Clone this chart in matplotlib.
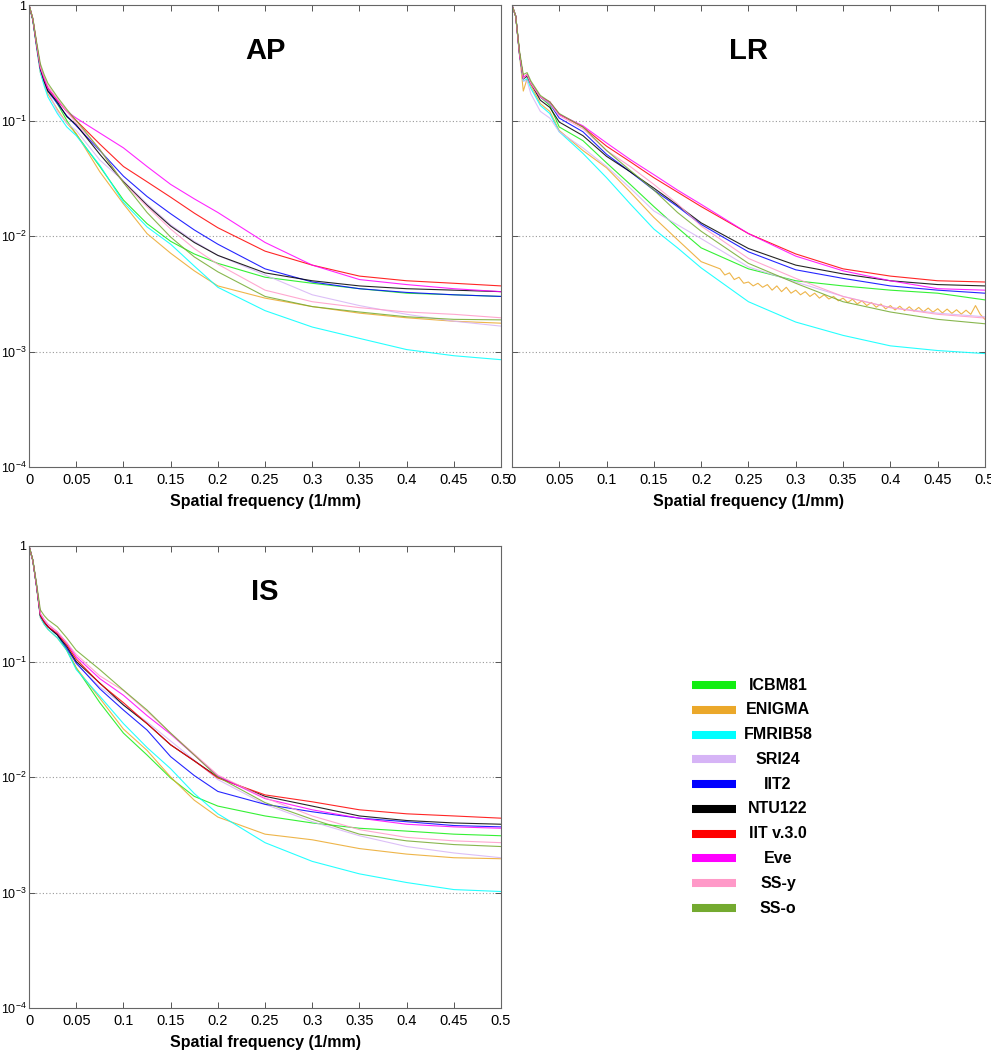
import matplotlib
matplotlib.use("Agg")
import matplotlib.pyplot as plt
import matplotlib.transforms as mtransforms
from matplotlib.lines import Line2D
from matplotlib.ticker import FixedLocator, NullLocator

plt.rcParams['font.family'] = ['Liberation Sans', 'DejaVu Sans']
plt.rcParams['mathtext.fontset'] = 'custom'
plt.rcParams['mathtext.rm'] = 'Liberation Sans'
plt.rcParams['mathtext.it'] = 'Liberation Sans:italic'
plt.rcParams['mathtext.bf'] = 'Liberation Sans:bold'

# template names and line colours (legend order)
names = ['ICBM81', 'ENIGMA', 'FMRIB58', 'SRI24', 'IIT2', 'NTU122',
         'IIT v.3.0', 'Eve', 'SS-y', 'SS-o']
colors = ['#11ee11', '#eba82a', '#00ffff', '#d6b4f6', '#0000ff', '#000000',
          '#ff0000', '#ff00ff', '#ff99c8', '#74aa30']

# spatial frequency samples (1/mm)
freq = [0, 0.004, 0.008, 0.012, 0.016, 0.02, 0.03, 0.04, 0.05, 0.075, 0.1,
        0.125, 0.15, 0.175, 0.2, 0.25, 0.3, 0.35, 0.4, 0.45, 0.5]

# ---- AP ----
ap_icbm81 = [1, .75, .45, .28, .23, .19, .14, .10, .076, .040, .0205, .0128, .0090, .0070, .0058, .0044, .0039, .0035, .0032, .0031, .0030]
ap_enigma = [1, .74, .43, .26, .21, .17, .125, .095, .077, .036, .019, .0105, .0071, .0050, .0037, .0029, .00245, .00215, .00196, .00183, .00176]
ap_fmrib58 = [1, .74, .43, .26, .20, .16, .115, .088, .074, .041, .0196, .0120, .0085, .0055, .0036, .00226, .00163, .0013, .00104, .00092, .00085]
ap_sri24 = [1, .75, .44, .27, .22, .18, .12, .095, .082, .0455, .030, .019, .0125, .0090, .0068, .0046, .0031, .0025, .0021, .00183, .00166]
ap_iit2 = [1, .75, .45, .28, .22, .18, .14, .11, .09, .055, .033, .022, .0156, .0113, .0085, .0052, .0040, .0035, .00325, .0031, .0030]
ap_ntu122 = [1, .75, .45, .28, .22, .18, .145, .108, .092, .051, .0295, .0185, .0122, .0088, .0068, .0048, .0041, .0037, .0035, .0034, .0033]
ap_iit3 = [1, .76, .46, .29, .23, .19, .15, .12, .10, .0625, .040, .0295, .0217, .0158, .0118, .0074, .0056, .0045, .0041, .0039, .0037]
ap_eve = [1, .76, .46, .29, .23, .19, .15, .12, .105, .078, .058, .040, .028, .021, .0160, .0088, .0056, .0042, .0038, .0035, .0033]
ap_ssy = [1, .76, .46, .29, .24, .20, .155, .12, .095, .056, .029, .018, .0115, .0078, .0057, .0034, .0027, .0024, .0022, .0021, .00196]
ap_sso = [1, .77, .48, .31, .25, .21, .16, .125, .10, .056, .029, .016, .0098, .0066, .0049, .0030, .00245, .0022, .0020, .0019, .00188]

# ---- LR ----
lr_icbm81 = [1, .8, .38, .23, .24, .21, .16, .135, .088, .067, .043, .028, .018, .0118, .0079, .0052, .0041, .0037, .0034, .0032, .0028]
lr_fmrib58 = [1, .8, .37, .22, .23, .19, .135, .115, .080, .052, .032, .019, .0115, .0079, .0053, .0027, .0018, .00138, .00112, .00102, .00096]
lr_sri24 = [1, .8, .37, .22, .22, .17, .12, .105, .080, .058, .040, .026, .0165, .0125, .0095, .0054, .0040, .0030, .0024, .00215, .0020]
lr_iit2 = [1, .8, .38, .23, .245, .21, .16, .14, .105, .080, .051, .036, .025, .018, .0126, .0073, .0051, .0043, .0037, .0034, .0032]
lr_ntu122 = [1, .8, .38, .23, .245, .21, .15, .13, .097, .074, .049, .036, .026, .0185, .013, .0078, .0056, .0047, .0041, .0038, .0037]
lr_iit3 = [1, .8, .38, .235, .25, .21, .16, .145, .113, .088, .060, .044, .032, .024, .018, .0105, .0070, .0052, .0045, .0041, .0040]
lr_eve = [1, .8, .38, .235, .25, .21, .16, .145, .113, .090, .064, .046, .034, .025, .0188, .0105, .0067, .0050, .0041, .0035, .0034]
lr_ssy = [1, .8, .38, .23, .25, .21, .16, .14, .11, .085, .055, .040, .028, .019, .0122, .0064, .0043, .0030, .0024, .0021, .00195]
lr_sso = [1, .8, .40, .25, .26, .22, .165, .145, .115, .088, .055, .037, .025, .016, .011, .0058, .0039, .0027, .0022, .0019, .00174]
# ENIGMA in LR is sampled more finely at high frequency (saw-tooth tail)
lr_enigma_freq = freq[:15] + [
    0.22, 0.225, 0.23, 0.235, 0.24, 0.245, 0.25, 0.255, 0.26, 0.265, 0.27, 0.275,
    0.28, 0.285, 0.29, 0.295, 0.3, 0.305, 0.31, 0.315, 0.32, 0.325, 0.33, 0.335,
    0.34, 0.345, 0.35, 0.355, 0.36, 0.365, 0.37, 0.375, 0.38, 0.385, 0.39, 0.395,
    0.4, 0.405, 0.41, 0.415, 0.42, 0.425, 0.43, 0.435, 0.44, 0.445, 0.45, 0.455,
    0.46, 0.465, 0.47, 0.475, 0.48, 0.485, 0.49, 0.495, 0.5]
lr_enigma = [1, .8, .37, .18, .23, .20, .14, .12, .082, .055, .039, .024, .0145, .0093, .0060,
    .0052, .0046, .0048, .0042, .0044, .0039, .0040, .0037, .0039, .0036, .0038, .0034,
    .0037, .0033, .0036, .0032, .0034, .0031, .0033, .0030, .0032, .0029, .0031, .00285,
    .0030, .00275, .0029, .00266, .00284, .00258, .00275, .0025, .00266, .00242, .00258, .00234,
    .0025, .00229, .00247, .00226, .00244, .00224, .00241, .00221, .00238, .00219, .00235, .00216,
    .00233, .00214, .0023, .00211, .00228, .0021, .0025, .0021, .0019]

# ---- IS ----
is_icbm81 = [1, .75, .45, .25, .22, .20, .17, .125, .088, .044, .024, .0155, .0098, .0068, .0056, .0046, .0040, .0036, .0034, .0032, .0031]
is_enigma = [1, .75, .44, .24, .21, .19, .16, .125, .088, .048, .026, .017, .0100, .0063, .0045, .0032, .00286, .0024, .00215, .0020, .00196]
is_fmrib58 = [1, .75, .44, .24, .21, .19, .16, .125, .085, .050, .029, .018, .0118, .0072, .0048, .0027, .00186, .00145, .00122, .00106, .00102]
is_sri24 = [1, .75, .45, .25, .22, .20, .17, .135, .095, .060, .042, .030, .0205, .014, .0095, .0058, .0041, .0031, .0025, .0022, .0020]
is_iit2 = [1, .75, .45, .25, .22, .20, .17, .13, .097, .058, .038, .0255, .015, .0103, .0075, .0058, .0050, .0044, .0041, .0038, .0037]
is_ntu122 = [1, .75, .45, .25, .22, .20, .17, .135, .10, .065, .042, .029, .019, .0138, .0100, .0068, .0056, .0046, .0042, .0040, .0039]
is_iit3 = [1, .75, .45, .25, .22, .20, .175, .14, .105, .0645, .044, .029, .019, .0138, .0098, .0070, .0061, .0052, .0048, .0046, .0044]
is_eve = [1, .75, .45, .26, .23, .21, .18, .145, .11, .071, .051, .034, .0235, .0155, .0102, .0065, .0052, .0044, .0039, .0037, .0036]
is_ssy = [1, .75, .46, .26, .23, .21, .18, .145, .115, .075, .056, .037, .024, .0158, .0104, .0066, .0046, .0035, .0030, .0028, .0027]
is_sso = [1, .76, .47, .28, .25, .23, .20, .16, .125, .085, .0565, .038, .024, .0155, .0100, .0060, .0043, .0032, .0028, .0026, .0025]

xticks = [0, 0.05, 0.1, 0.15, 0.2, 0.25, 0.3, 0.35, 0.4, 0.45, 0.5]
xtick_labels = ['0', '0.05', '0.1', '0.15', '0.2', '0.25', '0.3', '0.35', '0.4', '0.45', '0.5']
yticks = [1e-4, 1e-3, 1e-2, 1e-1, 1]
ytick_labels = [r'$10^{-4}$', r'$10^{-3}$', r'$10^{-2}$', r'$10^{-1}$', '1']

panels = [
    ('AP', [0.0293, 0.5552, 0.4763, 0.44], True,
     [(freq, ap_icbm81), (freq, ap_enigma), (freq, ap_fmrib58), (freq, ap_sri24), (freq, ap_iit2),
      (freq, ap_ntu122), (freq, ap_iit3), (freq, ap_eve), (freq, ap_ssy), (freq, ap_sso)]),
    ('LR', [0.5166, 0.5552, 0.4773, 0.44], False,
     [(freq, lr_icbm81), (lr_enigma_freq, lr_enigma), (freq, lr_fmrib58), (freq, lr_sri24), (freq, lr_iit2),
      (freq, lr_ntu122), (freq, lr_iit3), (freq, lr_eve), (freq, lr_ssy), (freq, lr_sso)]),
    ('IS', [0.0293, 0.04, 0.4763, 0.44], True,
     [(freq, is_icbm81), (freq, is_enigma), (freq, is_fmrib58), (freq, is_sri24), (freq, is_iit2),
      (freq, is_ntu122), (freq, is_iit3), (freq, is_eve), (freq, is_ssy), (freq, is_sso)]),
]

fig = plt.figure(figsize=(9.91, 10.5), dpi=100)

for title, rect, show_ylabels, series in panels:
    ax = fig.add_axes(rect)
    ax.set_yscale('log')
    for yv in yticks[1:-1]:
        ax.axhline(yv, color='#999999', lw=0.8, ls=(0, (1, 2)), zorder=1)
    for (xs, ys), c in zip(series, colors):
        ax.plot(xs, ys, color=c, lw=0.8, alpha=0.85, zorder=2)
    ax.set_xlim(0, 0.5)
    ax.set_ylim(1e-4, 1)
    ax.xaxis.set_major_locator(FixedLocator(xticks))
    ax.set_xticklabels(xtick_labels)
    ax.yaxis.set_major_locator(FixedLocator(yticks))
    ax.yaxis.set_minor_locator(NullLocator())
    if show_ylabels:
        ax.set_yticklabels(ytick_labels)
        # MATLAB puts the "1" under the "10" of the other labels
        one = ax.get_yticklabels()[-1]
        one.set_transform(one.get_transform() +
                          mtransforms.ScaledTranslation(-0.1, -0.03, fig.dpi_scale_trans))
    else:
        ax.set_yticklabels([])
    ax.tick_params(direction='in', top=True, right=True, length=4.5, width=0.7,
                   color='#555555', labelsize=10.5, pad=4)
    ax.tick_params(axis='y', pad=2, labelsize=9)
    for sp in ax.spines.values():
        sp.set_color('#666666')
        sp.set_linewidth(0.8)
    ax.set_xlabel('Spatial frequency (1/mm)', fontsize=11.5, fontweight='bold', labelpad=5)
    ax.text(0.5, 0.9, title, transform=ax.transAxes, ha='center', va='center',
            fontsize=21, fontweight='bold')

# legend drawn MATLAB style: swatch on the left, centred label
for i, (name, c) in enumerate(zip(names, colors)):
    y = 0.3476 - i * 0.0236
    fig.add_artist(Line2D([0.698, 0.743], [y, y], color=c, lw=5.8,
                          transform=fig.transFigure, solid_capstyle='butt'))
    fig.text(0.785, y, name, ha='center', va='center', fontsize=11.5, fontweight='bold')

fig.savefig('out.png', dpi=100)
